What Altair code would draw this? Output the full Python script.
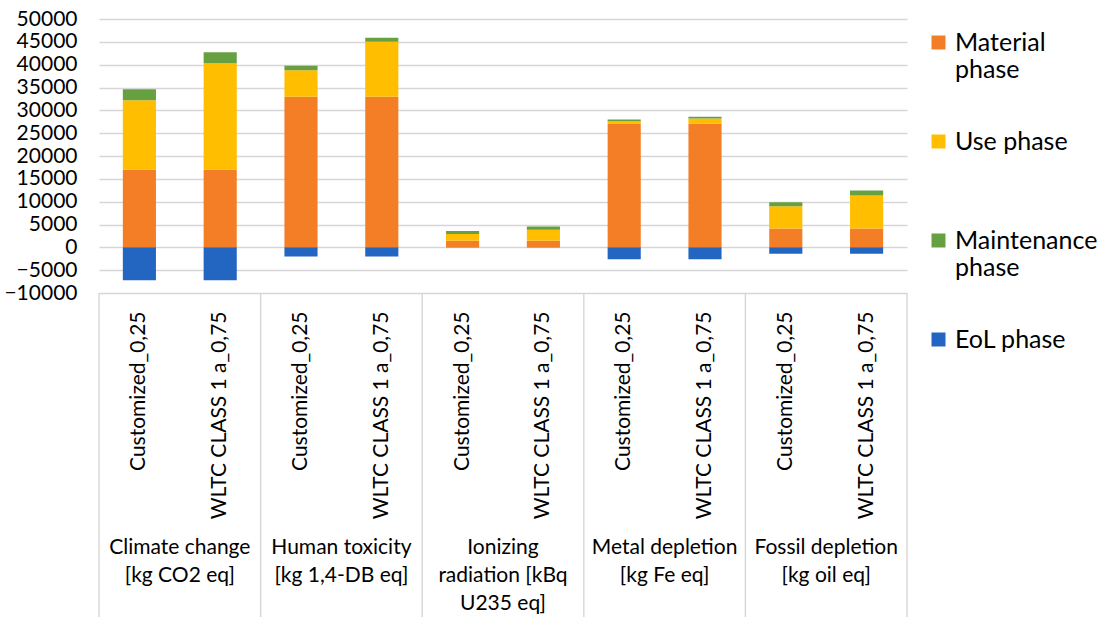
import altair as alt
import pandas as pd

# Impact categories (two scenarios each)
groups = ["Climate change", "Human toxicity", "Ionizing radiation", "Metal depletion", "Fossil depletion"]
group_labels = [
    "Climate change\n[kg CO2 eq]",
    "Human toxicity\n[kg 1,4-DB eq]",
    "Ionizing\nradiation [kBq\nU235 eq]",
    "Metal depletion\n[kg Fe eq]",
    "Fossil depletion\n[kg oil eq]",
]
scenarios = ["Customized_0,25", "WLTC CLASS 1 a_0,75"]
phases = ["Material phase", "Use phase", "Maintenance phase", "EoL phase"]
phase_colors = ["#F47E26", "#FFBE00", "#66A040", "#2366C2"]

# Values per bar, in order: group by group, scenario by scenario
material = [17000, 17000, 33000, 33000, 1450, 1450, 27100, 27100, 4100, 4100]
use = [15200, 23300, 5800, 12000, 1450, 2400, 500, 1100, 4900, 7250]
maintenance = [2400, 2400, 950, 900, 650, 700, 370, 370, 870, 1100]
eol = [-7200, -7200, -2000, -2000, -50, -50, -2600, -2600, -1400, -1400]

y_ticks = list(range(-10000, 50001, 5000))

keys = [f"{g}::{s}" for g in groups for s in scenarios]
series = [material, use, maintenance, eol]
rows = []
for i, key in enumerate(keys):
    for p_idx, (phase, vals) in enumerate(zip(phases, series)):
        rows.append({"key": key, "phase": phase, "order": p_idx, "value": vals[i]})
df = pd.DataFrame(rows)

group_df = pd.DataFrame({"key": [f"{g}::{scenarios[0]}" for g in groups], "label": group_labels})
last_df = pd.DataFrame({"key": [keys[-1]]})

W, H = 808, 274
FONT = "Lato"

x_scale = alt.Scale(domain=keys, paddingInner=0, paddingOuter=0)
x_axis = alt.Axis(
    title=None,
    labelExpr="split(datum.value, '::')[1]",
    labelAngle=-90,
    labelFontSize=21,
    labelFont=FONT,
    labelColor="#000000",
    labelPadding=18,
    labelLimit=300,
    domain=False,
    ticks=False,
    grid=False,
)

# Two-line legend labels (second line blank for the short names)
legend_expr = (
    "datum.label == 'Material phase' ? ['Material', 'phase'] : "
    "datum.label == 'Maintenance phase' ? ['Maintenance', 'phase'] : "
    "[datum.label, ' ']"
)

bars = alt.Chart(df).mark_bar(width=alt.RelativeBandSize(0.41)).encode(
    x=alt.X("key:N", scale=x_scale, axis=x_axis),
    y=alt.Y(
        "value:Q",
        stack="zero",
        scale=alt.Scale(domain=[-10000, 50000], nice=False, zero=False),
        axis=alt.Axis(
            title=None,
            values=y_ticks,
            format="d",
            labelFontSize=21,
            labelFont=FONT,
            labelColor="#000000",
            labelPadding=22,
            domain=False,
            ticks=False,
            grid=True,
            gridColor="#D6D6D6",
            gridWidth=1.4,
        ),
    ),
    color=alt.Color(
        "phase:N",
        scale=alt.Scale(domain=phases, range=phase_colors),
        legend=alt.Legend(
            title=None,
            orient="none",
            legendX=827,
            legendY=11,
            padding=0,
            symbolType="square",
            symbolSize=196,
            symbolStrokeWidth=0,
            labelExpr=legend_expr,
            labelFontSize=25,
            labelFont=FONT,
            labelColor="#000000",
            labelOffset=4,
            labelLimit=250,
            rowPadding=46,
        ),
    ),
    order=alt.Order("order:Q"),
)

# Vertical separators of the category table below the plot
sep = alt.Chart(group_df).mark_rule(color="#D6D6D6", strokeWidth=1.4).encode(
    x=alt.X("key:N", scale=x_scale, bandPosition=0),
    y=alt.value(H),
    y2=alt.value(H + 340),
)
sep_end = alt.Chart(last_df).mark_rule(color="#D6D6D6", strokeWidth=1.4).encode(
    x=alt.X("key:N", scale=x_scale, bandPosition=1),
    y=alt.value(H),
    y2=alt.value(H + 340),
)

# Impact category names, centred under each pair of bars
group_text = alt.Chart(group_df).mark_text(
    lineBreak="\n",
    lineHeight=28,
    align="center",
    baseline="top",
    fontSize=21,
    font=FONT,
    color="#000000",
).encode(
    x=alt.X("key:N", scale=x_scale, bandPosition=1),
    y=alt.value(518),
    text="label:N",
)

chart = (
    alt.layer(bars, sep, sep_end, group_text)
    .properties(
        width=W,
        height=H,
        autosize=alt.AutoSizeParams(type="none"),
        padding={"left": 99, "top": 19, "right": 197, "bottom": 324},
        background="white",
    )
    .configure_view(stroke=None)
)

chart.save("out.html", embed_options={"renderer": "svg", "actions": False})
